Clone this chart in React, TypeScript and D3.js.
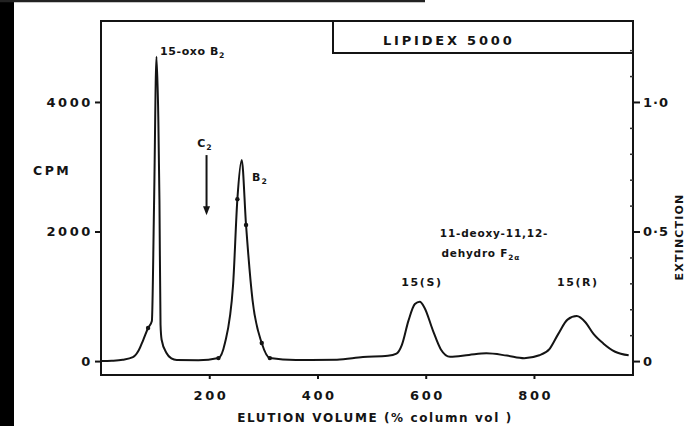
import React, { useRef, useEffect } from 'react';
import * as d3 from 'd3';

const W = 684, H = 426;

// elution profile (volume in % column vol, radioactivity in CPM)
const elutionVol = [0, 20, 40, 59, 70, 78, 87, 94, 98, 102.5, 106, 108, 110, 112, 121, 130, 140, 180,
  217, 229, 244, 252, 260, 268, 280, 297, 312, 360, 436, 484,
  530, 546, 556, 568, 580, 589, 598, 613, 628, 645, 680, 712, 750, 782,
  810, 829, 845, 862, 879, 895, 910, 928, 950, 975];
const cpm = [0, 5, 20, 60, 170, 325, 510, 620, 2400, 4700, 3700, 2480, 560, 330, 124, 40, 15, 12,
  46, 278, 1170, 2500, 3104, 2100, 942, 278, 46, 15, 20, 62,
  82, 115, 250, 620, 880, 916, 820, 479, 180, 66, 95, 119, 85, 45,
  90, 190, 420, 640, 695, 600, 420, 273, 144, 90];
const markedVol = [87, 217, 252, 268, 297, 312];

const cpmTicks = [0, 2000, 4000];
const extTicks = [0, 0.5, 1.0];
const extMinor = [0.1, 0.2, 0.3, 0.4, 0.6, 0.7, 0.8, 0.9, 1.1, 1.2];
const volTicks = [200, 400, 600, 800];

const FONT = '"DejaVu Sans", sans-serif';
const INK = '#141414';

const Chart = () => {
  const ref = useRef<SVGSVGElement>(null);

  useEffect(() => {
    const left = 101, right = 633, top = 21, bottom = 375;
    const svg = d3.select(ref.current);
    svg.selectAll('*').remove();

    const x = d3.scaleLinear().domain([0, 983]).range([left, right]);
    const y = d3.scaleLinear().domain([-215, 5250]).range([bottom, top]);
    const yExt = d3.scaleLinear().domain([-215 / 4000, 5250 / 4000]).range([bottom, top]);

    svg.append('rect').attr('width', W).attr('height', H).attr('fill', '#fff');
    // scan edge
    svg.append('rect').attr('x', 0).attr('y', 0).attr('width', 14).attr('height', H).attr('fill', '#000');
    svg.append('line').attr('x1', 0).attr('x2', 425).attr('y1', 1).attr('y2', 1)
      .attr('stroke', '#222').attr('stroke-width', 2.5);

    // frame
    svg.append('rect').attr('x', left).attr('y', top).attr('width', right - left).attr('height', bottom - top)
      .attr('fill', 'none').attr('stroke', INK).attr('stroke-width', 2);

    // title box
    svg.append('rect').attr('x', 333).attr('y', top).attr('width', right - 333).attr('height', 32)
      .attr('fill', '#fff').attr('stroke', INK).attr('stroke-width', 2);
    svg.append('text').attr('x', 383).attr('y', 45).text('LIPIDEX  5000')
      .attr('font-family', FONT).attr('font-size', 13).attr('font-weight', 'bold')
      .style('letter-spacing', '2.8px').attr('fill', INK);

    const styleAxis = (g, spacing) => {
      g.select('.domain').remove();
      g.selectAll('line').attr('stroke', INK).attr('stroke-width', 2);
      g.selectAll('text').attr('font-family', FONT).attr('font-size', 13).attr('font-weight', 'bold')
        .attr('fill', INK).style('letter-spacing', spacing);
    };

    const gl = svg.append('g').attr('transform', `translate(${left},0)`)
      .call(d3.axisLeft(y).tickValues(cpmTicks).tickSize(6).tickPadding(2).tickFormat(d3.format('d')));
    styleAxis(gl, '2.6px');

    const gb = svg.append('g').attr('transform', `translate(0,${bottom})`)
      .call(d3.axisBottom(x).tickValues(volTicks).tickSize(4).tickPadding(12).tickFormat(d3.format('d')));
    styleAxis(gb, '2.6px');
    gb.selectAll('text').attr('dx', 1.3);

    const gr = svg.append('g').attr('transform', `translate(${right},0)`)
      .call(d3.axisRight(yExt).tickValues(extTicks).tickSize(7).tickPadding(3)
        .tickFormat(d => d === 0 ? '0' : d3.format('.1f')(d).replace('.', '·')));
    styleAxis(gr, '1px');

    const gm = svg.append('g').attr('transform', `translate(${right},0)`)
      .call(d3.axisLeft(yExt).tickValues(extMinor).tickSize(3).tickFormat(() => ''));
    gm.select('.domain').remove();
    gm.selectAll('line').attr('stroke', '#333').attr('stroke-width', 1.5);

    // axis titles
    svg.append('text').attr('x', 33).attr('y', 175).text('CPM')
      .attr('font-family', FONT).attr('font-size', 12.5).attr('font-weight', 'bold')
      .attr('fill', INK).style('letter-spacing', '2.5px');
    svg.append('text').attr('x', 375).attr('y', 422).attr('text-anchor', 'middle')
      .text('ELUTION  VOLUME  (% column vol )')
      .attr('font-family', FONT).attr('font-size', 12).attr('font-weight', 'bold')
      .attr('fill', INK).style('letter-spacing', '1.6px');
    svg.append('text').attr('transform', 'translate(679,237) rotate(-90)').attr('text-anchor', 'middle')
      .attr('dominant-baseline', 'central').text('EXTINCTION')
      .attr('font-family', FONT).attr('font-size', 11).attr('font-weight', 'bold')
      .attr('fill', INK).style('letter-spacing', '1.2px');

    // trace
    const pts = elutionVol.map((v, i) => [v, cpm[i]] as [number, number]);
    const line = d3.line<[number, number]>().x(d => x(d[0])).y(d => y(d[1])).curve(d3.curveMonotoneX);
    svg.append('path').datum(pts).attr('d', line).attr('fill', 'none')
      .attr('stroke', INK).attr('stroke-width', 2).attr('stroke-linejoin', 'round');
    svg.append('g').selectAll('circle').data(pts.filter(p => markedVol.includes(p[0]))).enter()
      .append('circle').attr('cx', d => x(d[0])).attr('cy', d => y(d[1])).attr('r', 2.2).attr('fill', INK);

    // labels on the trace
    const lab = (vx, vy, parts, anchor = 'start', size = 11, spacing = '1px') => {
      const t = svg.append('text').attr('x', x(vx)).attr('y', y(vy)).attr('text-anchor', anchor)
        .attr('font-family', FONT).attr('font-size', size).attr('font-weight', 'bold')
        .attr('fill', INK).style('letter-spacing', spacing);
      parts.forEach(([s, sub]) => {
        if (sub) t.append('tspan').attr('font-size', size * 0.7).attr('dy', 3).text(s);
        else t.append('tspan').text(s);
      });
    };
    lab(109, 4726, [['15-oxo B', null], ['2', true]], 'start', 11, '0.6px');
    lab(192, 3305, [['C', null], ['2', true]], 'middle');
    lab(279, 2780, [['B', null], ['2', true]]);
    lab(626, 1915, [['11-deoxy-11,12-', null]], 'start', 10.5, '0.8px');
    lab(629, 1606, [['dehydro F', null], ['2α', true]], 'start', 10.5, '0.8px');
    lab(593, 1158, [['15(S)', null]], 'middle', 11, '1.6px');
    lab(881, 1158, [['15(R)', null]], 'middle', 11, '1.6px');

    // C2 arrow
    svg.append('line').attr('x1', x(195)).attr('x2', x(195)).attr('y1', y(3180)).attr('y2', y(2330))
      .attr('stroke', INK).attr('stroke-width', 2);
    const ax = x(195), ay = y(2250);
    svg.append('path').attr('d', `M${ax},${ay}L${ax - 3.5},${ay - 9}L${ax + 3.5},${ay - 9}Z`).attr('fill', INK);
  }, []);

  return <svg ref={ref} width={W} height={H} style={{ position: 'absolute', left: 0, top: 0 }} />;
};

export default function App() {
  return <Chart />;
}
